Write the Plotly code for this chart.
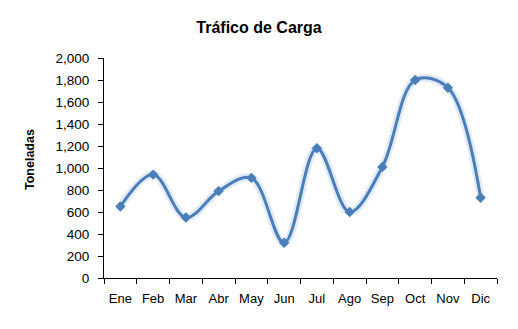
import plotly.graph_objects as go

meses = ["Ene", "Feb", "Mar", "Abr", "May", "Jun", "Jul", "Ago", "Sep", "Oct", "Nov", "Dic"]
toneladas = [650, 940, 550, 790, 910, 320, 1180, 600, 1010, 1800, 1730, 730]

azul = "#4A7EBB"
fuente = "Liberation Sans, Arial, sans-serif"

fig = go.Figure()

# soft glow under the curve
fig.add_trace(go.Scatter(
    x=meses, y=toneladas, mode="lines",
    line=dict(color="rgba(150,180,220,0.28)", width=8, shape="spline", smoothing=1),
    hoverinfo="skip", showlegend=False,
))

fig.add_trace(go.Scatter(
    x=meses, y=toneladas, mode="lines+markers",
    line=dict(color=azul, width=3, shape="spline", smoothing=1),
    marker=dict(symbol="diamond", size=8, color=azul),
    showlegend=False,
))

fig.update_layout(
    width=518, height=329,
    margin=dict(l=104, r=21, t=58, b=51),
    paper_bgcolor="white", plot_bgcolor="white",
    font=dict(family=fuente, size=13, color="black"),
    title=dict(text="<b>Tráfico de Carga</b>", x=0.5, xanchor="center",
               y=0.918, yanchor="middle", font=dict(size=16)),
    xaxis=dict(
        type="category", range=[-0.5, 11.5],
        showline=True, linecolor="black", linewidth=1,
        ticks="outside", tickson="boundaries", ticklen=5, tickcolor="black",
        showgrid=False, tickfont=dict(size=13), ticklabelstandoff=8,
        tickangle=0,
    ),
    yaxis=dict(
        range=[0, 2000], dtick=200, tickformat=",",
        showline=True, linecolor="black", linewidth=1,
        ticks="outside", ticklen=5, tickcolor="black",
        showgrid=False, zeroline=False, tickfont=dict(size=13.5),
        ticklabelstandoff=6,
    ),
    annotations=[dict(
        text="<b>Toneladas</b>", textangle=-90, showarrow=False,
        xref="paper", yref="paper", x=0, y=0.5, xanchor="center", yanchor="middle",
        xshift=-74, yshift=8, font=dict(size=12.5),
    )],
)

fig.write_html("out.html")
